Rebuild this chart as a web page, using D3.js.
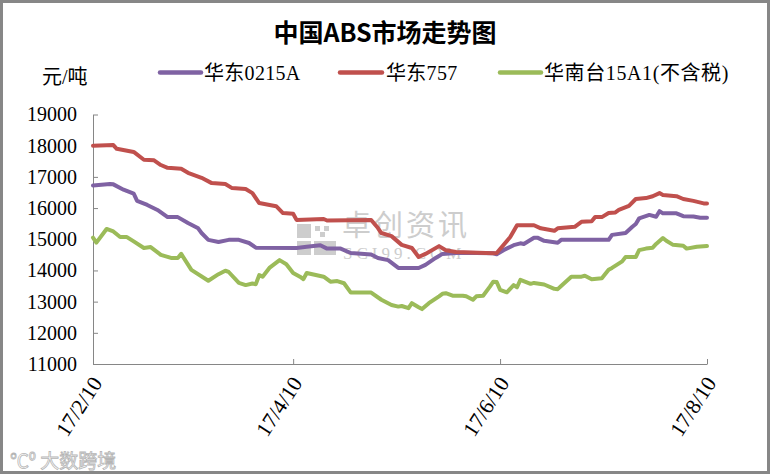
<!DOCTYPE html>
<html><head><meta charset="utf-8">
<script src="https://cdn.jsdelivr.net/npm/d3@7"></script>
<style>body{margin:0;background:#fff}svg{display:block}</style>
</head><body><div id="c"></div>
<script>
const title = "中国ABS市场走势图";
const unitLabel = "元/吨";
const seriesNames = ["华东0215A", "华东757", "华南台15A1(不含税)"];
const seriesColors = ["#7F62A3", "#C0504D", "#9BBB59"];
const yTicks = [11000,12000,13000,14000,15000,16000,17000,18000,19000];
const xTickDates = ["2017-02-10","2017-04-10","2017-06-10","2017-08-10"];
const xTickLabels = ["17/2/10","17/4/10","17/6/10","17/8/10"];

const purpleDates = ["02-10","02-15","02-16","02-19","02-22","02-23","02-26","03-01","03-04","03-07","03-10","03-13","03-14","03-16","03-19","03-22","03-25","03-28","03-30","04-11","04-14","04-18","04-20","04-24","04-27","05-03","05-05","05-08","05-11","05-17","05-19","05-22","05-24","05-29","06-08","06-09","06-11","06-14","06-16","06-17","06-20","06-21","06-23","06-27","06-28","07-12","07-13","07-17","07-19","07-20","07-21","07-24","07-26","07-27","07-28","08-01","08-03","08-06","08-08","08-10"];
const purpleValues = [16720,16770,16760,16590,16460,16230,16100,15940,15710,15710,15520,15350,15200,14980,14910,14980,14980,14880,14730,14720,14760,14810,14700,14700,14560,14510,14400,14330,14080,14080,14180,14400,14530,14570,14550,14520,14650,14810,14870,14850,15050,15050,14950,14890,14980,14980,15140,15200,15400,15490,15670,15780,15720,15900,15830,15830,15740,15730,15690,15690];

const redDates = ["02-10","02-16","02-17","02-22","02-25","02-28","03-02","03-04","03-08","03-10","03-14","03-17","03-21","03-23","03-27","03-29","03-31","04-05","04-07","04-10","04-11","04-19","04-20","05-03","05-05","05-06","05-09","05-12","05-15","05-17","05-19","05-23","05-25","05-28","06-08","06-09","06-13","06-15","06-20","06-22","06-26","06-27","07-02","07-04","07-07","07-08","07-10","07-12","07-14","07-15","07-18","07-20","07-23","07-25","07-27","07-28","08-01","08-03","08-06","08-09","08-10"];
const redValues = [18000,18020,17900,17800,17550,17530,17380,17290,17260,17130,16970,16800,16770,16640,16610,16480,16160,16060,15840,15820,15620,15650,15600,15620,15360,15200,15100,14820,14720,14430,14530,14780,14650,14590,14550,14560,15070,15450,15450,15350,15270,15350,15400,15560,15580,15710,15710,15840,15860,15940,16070,16290,16320,16380,16480,16420,16380,16290,16230,16150,16150];

const greenDates = ["02-10","02-11","02-14","02-16","02-18","02-20","02-22","02-25","02-27","03-02","03-05","03-07","03-08","03-11","03-16","03-19","03-21","03-22","03-25","03-27","03-29","03-30","03-31","04-01","04-03","04-06","04-08","04-10","04-12","04-13","04-14","04-16","04-19","04-21","04-23","04-25","04-27","05-03","05-06","05-09","05-11","05-12","05-14","05-15","05-17","05-18","05-20","05-23","05-24","05-25","05-27","05-30","05-31","06-02","06-03","06-05","06-07","06-08","06-09","06-10","06-12","06-14","06-15","06-16","06-19","06-20","06-23","06-26","06-27","06-28","07-01","07-04","07-05","07-07","07-10","07-12","07-13","07-16","07-17","07-20","07-21","07-23","07-25","07-26","07-28","07-29","07-31","08-03","08-04","08-07","08-10"];
const greenValues = [15050,14890,15330,15250,15070,15070,14930,14720,14750,14500,14400,14400,14530,14020,13670,13880,13990,13950,13600,13530,13580,13560,13850,13800,14080,14330,14200,13920,13800,13720,13920,13870,13800,13640,13660,13590,13290,13290,13060,12890,12840,12860,12790,12950,12820,12760,12950,13170,13250,13270,13190,13190,13170,13060,13170,13190,13480,13640,13630,13380,13300,13530,13460,13700,13570,13600,13550,13410,13400,13500,13800,13800,13830,13720,13750,14020,14080,14290,14430,14430,14650,14700,14730,14850,15040,14950,14820,14790,14700,14760,14780];

const W = 770, H = 474;
const parse = d3.utcParse("%Y-%m-%d");
const md = s => parse("2017-" + s);

const svg = d3.select("#c").append("svg").attr("width", W).attr("height", H);
svg.append("rect").attr("x",1.5).attr("y",1.5).attr("width",W-3).attr("height",H-3)
  .attr("fill","#fff").attr("stroke","#878787").attr("stroke-width",3);

const x = d3.scaleUtc().domain([parse(xTickDates[0]), parse(xTickDates[3])]).range([93, 707]);
const y = d3.scaleLinear().domain([11000, 19000]).range([364, 114.5]);

const serifCJK = "'Liberation Serif','Noto Sans CJK SC',serif";

// title
svg.append("text").attr("x", 385).attr("y", 42).attr("text-anchor","middle")
  .attr("font-family","'Noto Sans CJK SC',sans-serif").attr("font-weight","bold")
  .attr("font-size", 25).attr("fill","#000").text(title);

// unit
svg.append("text").attr("x", 42).attr("y", 84).attr("font-family", serifCJK)
  .attr("font-size", 20).attr("fill","#000").text(unitLabel);

// legend
const legX = [[160,201,204],[340,382,386],[500,541,544]];
seriesNames.forEach((n,i)=>{
  svg.append("line").attr("x1",legX[i][0]).attr("x2",legX[i][1]).attr("y1",72.5).attr("y2",72.5)
    .attr("stroke",seriesColors[i]).attr("stroke-width",4.5).attr("stroke-linecap","round");
  svg.append("text").attr("x",legX[i][2]).attr("y",80).attr("font-family",serifCJK)
    .attr("font-size",20).attr("letter-spacing", i===2 ? 0.6 : 0.3).attr("fill","#000").text(n);
});

// watermark
const wm = svg.append("g").attr("fill","#cdcdcd");
wm.append("rect").attr("x",297).attr("y",224).attr("width",14).attr("height",14);
wm.append("rect").attr("x",297).attr("y",241).attr("width",14).attr("height",14);
wm.append("rect").attr("x",314).attr("y",241).attr("width",22).attr("height",14);
wm.append("rect").attr("x",315).attr("y",226).attr("width",5).attr("height",5);
wm.append("rect").attr("x",324).attr("y",226).attr("width",5).attr("height",5);
wm.append("rect").attr("x",320).attr("y",232).attr("width",5).attr("height",5);
wm.append("text").attr("x",342).attr("y",236).attr("font-family","'Noto Sans CJK SC',sans-serif")
  .attr("font-size",29).attr("letter-spacing",3).text("卓创资讯");
wm.append("text").attr("x",343).attr("y",259).attr("font-family","'Liberation Serif',serif")
  .attr("font-size",17).attr("letter-spacing",4).text("SCI99.COM");

// axes
const ay = svg.append("g").attr("transform","translate(93,0)")
  .call(d3.axisLeft(y).tickValues(yTicks).tickSize(-5).tickSizeOuter(0).tickPadding(16).tickFormat(d3.format("d")));
ay.select(".domain").attr("stroke","#868686");
ay.selectAll(".tick line").attr("stroke","#868686");
ay.selectAll(".tick text").attr("font-family","'Liberation Serif',serif").attr("font-size",20).attr("fill","#000");

const xd = xTickDates.map(parse);
const ax = svg.append("g").attr("transform","translate(0,364)")
  .call(d3.axisBottom(x).tickValues(xd).tickSize(-5).tickSizeOuter(0).tickFormat(""));
ax.select(".domain").attr("stroke","#868686");
ax.selectAll(".tick line").attr("stroke","#868686");
xd.forEach((d,i)=>{
  svg.append("text").attr("transform",`translate(${x(d)+10},383) rotate(-57)`)
    .attr("text-anchor","end").attr("font-family","'Liberation Serif',serif")
    .attr("font-size",21.5).attr("fill","#000").text(xTickLabels[i]);
});

// lines
const line = d3.line().x(d=>x(d[0])).y(d=>y(d[1]));
const series = [
  [purpleDates, purpleValues, 0],
  [redDates, redValues, 1],
  [greenDates, greenValues, 2]
];
series.forEach(([ds, vs, ci])=>{
  const data = ds.map((s,i)=>[md(s), vs[i]]);
  svg.append("path").datum(data).attr("d", line).attr("fill","none")
    .attr("stroke", seriesColors[ci]).attr("stroke-width",4).attr("stroke-linejoin","round").attr("stroke-linecap","round");
});

// bottom-left watermark
svg.append("text").attr("x",10).attr("y",468).attr("font-family","'Noto Sans CJK SC',sans-serif")
  .attr("font-size",19).attr("fill","#fff").attr("stroke","#b5b5b5").attr("stroke-width",0.8)
  .text("℃⁰ 大数跨境");
</script></body></html>
